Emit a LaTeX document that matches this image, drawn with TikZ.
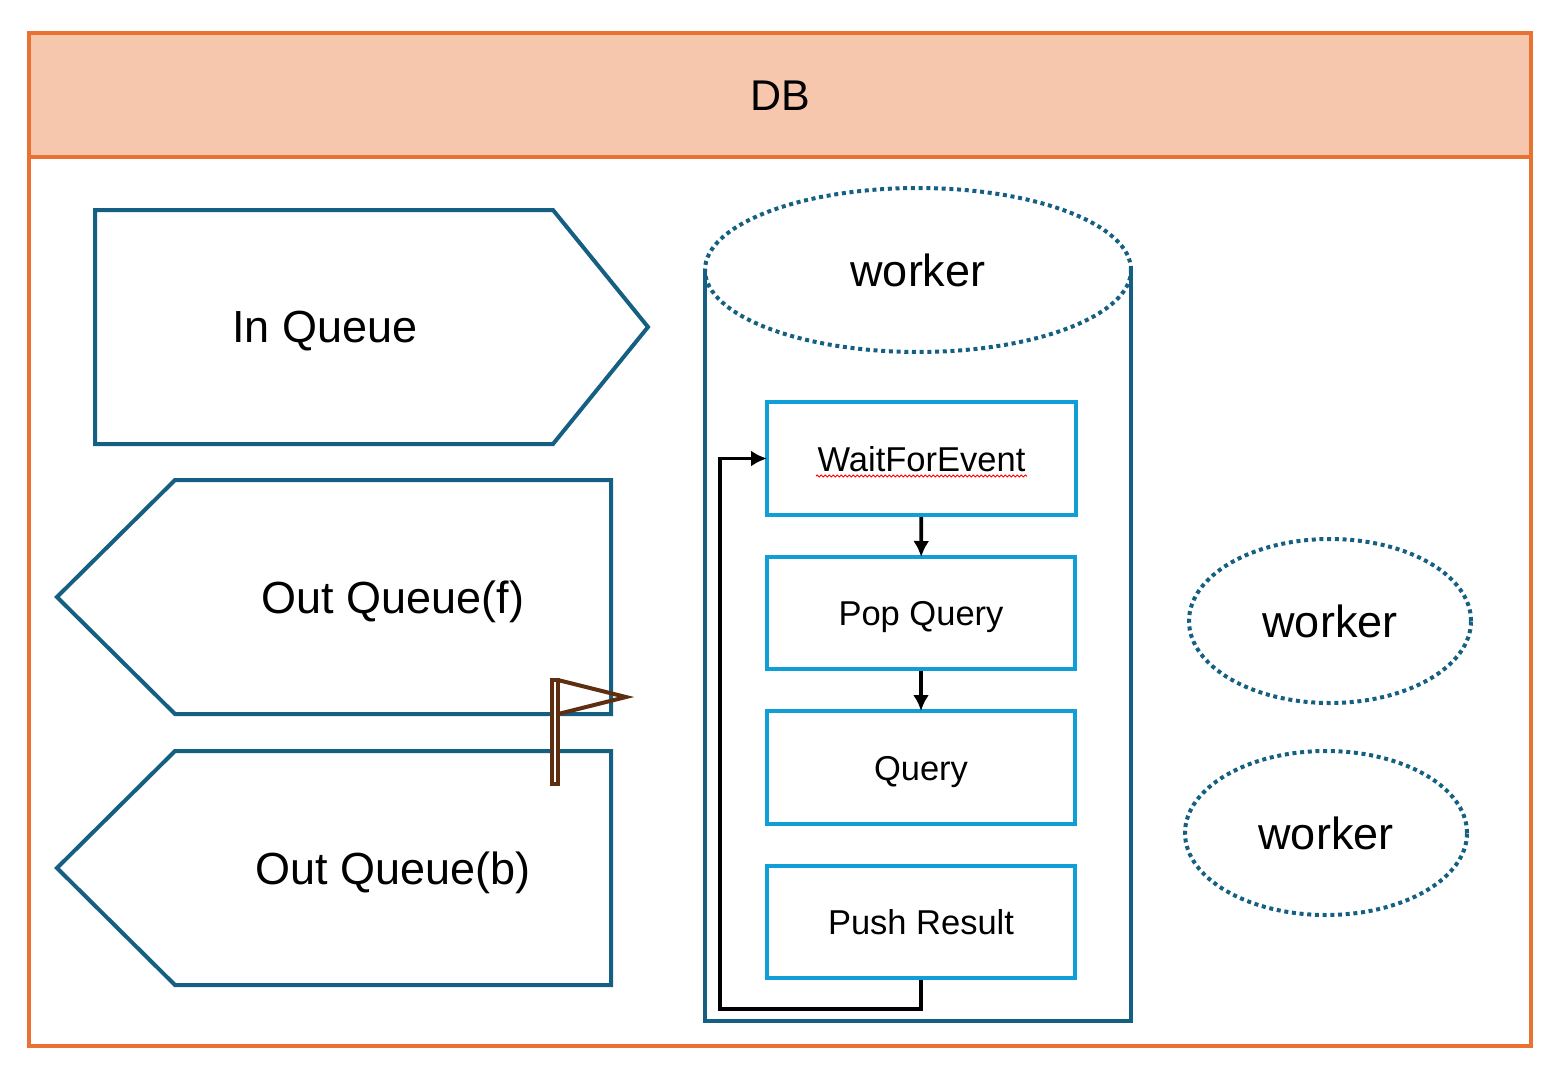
\documentclass[tikz,border=0pt]{standalone}
\usepackage{fontspec}
\setmainfont{Liberation Sans}
\usetikzlibrary{arrows.meta,shapes.geometric,decorations.pathmorphing}
\definecolor{frameorange}{HTML}{E97132}
\definecolor{headerfill}{HTML}{F6C6AD}
\definecolor{queueblue}{HTML}{156082}
\definecolor{stepblue}{HTML}{0F9ED5}
\definecolor{flagbrown}{HTML}{5F2D10}
\tikzset{
    bigtext/.style={font=\fontsize{45}{50}\selectfont,text height=32pt,text depth=0pt},
    smalltext/.style={font=\fontsize{34.5}{38}\selectfont,text height=25pt,text depth=0pt},
    queueline/.style={draw=queueblue,line width=4pt,line join=miter},
    headerbox/.style={draw=frameorange,fill=headerfill,line width=4pt,minimum width=1502pt,minimum height=124pt,font=\fontsize{43}{50}\selectfont,text height=31pt,text depth=0pt},
    workeroval/.style={ellipse,draw=queueblue,line width=4pt,dash pattern=on 4pt off 3.7pt,inner sep=0pt,bigtext},
    stepbox/.style={draw=stepblue,line width=4pt,minimum width=308pt,minimum height=112pt,smalltext},
    flow/.style={-{Latex[length=16pt,width=16pt]},line width=3.8pt,black,shorten >=-2pt}
}
\begin{document}
\begin{tikzpicture}[x=1pt,y=-1pt]
    \useasboundingbox (0,0) rectangle (1557,1071);
    \draw[draw=frameorange,line width=4pt] (29,33) rectangle (1531,1046);
    \node[headerbox] (db) at (780,95) {DB};

    \draw[queueline] (95,210)--(553,210)--(648,327)--(553,444)--(95,444)--cycle;
    \node[bigtext] (inqueue) at (325,326) {In Queue};
\foreach \n/\y/\c/\t in {outf/480/393/Out Queue(f),outb/751/393/Out Queue(b)}
{
    \draw[queueline] (611,\y)--(175,\y)--(57,\y+117)--(175,\y+234)--(611,\y+234)--cycle;
    \node[bigtext] (\n) at (\c,\y+117) {\t};
}

    \draw[queueline] (705,270)--(705,1021)--(1131,1021)--(1131,270);
    \node[workeroval,minimum width=426pt,minimum height=164pt] (mainworker) at (918,270) {worker};
    \node[workeroval,minimum width=282pt,minimum height=164pt] (workerb) at (1330,621) {worker};
    \node[workeroval,minimum width=282pt,minimum height=164pt] (workerc) at (1326,833) {worker};

    \node[stepbox,minimum width=309pt,minimum height=113pt] (wait) at (921.5,458.5) {WaitForEvent};
    \node[stepbox] (pop) at (921,613) {Pop Query};
    \node[stepbox,minimum height=113pt] (query) at (921,767.5) {Query};
    \node[stepbox] (push) at (921,922) {Push Result};
    \draw[red,line width=1pt,decorate,decoration={snake,amplitude=1pt,segment length=4pt}] (816,476)--(1027,476);

    \coordinate (loopcorner) at (720,1009);
    \draw[flow] (wait)--(pop);
    \draw[flow] (pop)--(query);
    \draw[flow,line join=miter] (push.south)|-(loopcorner)|-(wait.west);

    % flag over the two queues
    \draw[flagbrown,line width=4pt,line join=miter] (558,680)--(626,697)--(558,714);
    \draw[flagbrown,line width=4pt,fill=white] (552,680)rectangle(558,784);
\end{tikzpicture}
\end{document}
